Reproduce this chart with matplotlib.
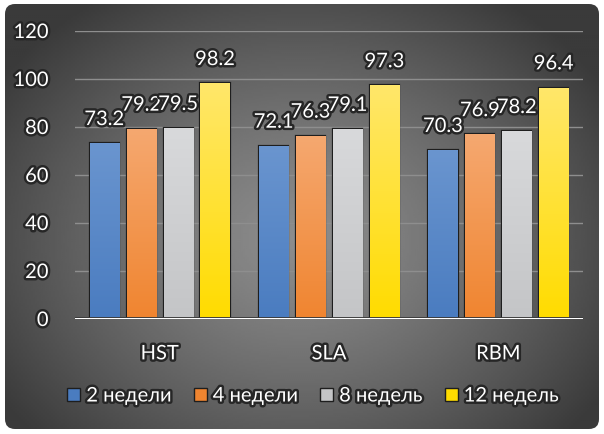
import numpy as np
import matplotlib.pyplot as plt
import matplotlib.patheffects as pe
from matplotlib.patches import FancyBboxPatch, Patch

plt.rcParams['font.family'] = ['Lato', 'DejaVu Sans']

categories = ['HST', 'SLA', 'RBM']
series_names = ['2 недели', '4 недели', '8 недель', '12 недель']
values = [
    [73.2, 72.1, 70.3],
    [79.2, 76.3, 76.9],
    [79.5, 79.1, 78.2],
    [98.2, 97.3, 96.4],
]
y_ticks = [0, 20, 40, 60, 80, 100, 120]

# base colour (bottom of bar) and highlight colour (top of bar)
bar_colors = [('#4a7cc0', '#6a95cf'),
              ('#f08530', '#f5a870'),
              ('#c4c5c7', '#d8d9db'),
              ('#ffdc00', '#ffe76a')]

W, H = 604, 435
fig = plt.figure(figsize=(W / 100, H / 100), dpi=100, facecolor='white')

# dark panel with a radial gradient
bg = fig.add_axes([0, 0, 1, 1])
bg.set_xlim(0, W)
bg.set_ylim(H, 0)
bg.axis('off')
xx, yy = np.meshgrid(np.linspace(0, W, 302), np.linspace(0, H, 218))
r = np.sqrt(((xx - 300) / 360) ** 2 + ((yy - 240) / 290) ** 2)
shade = np.clip(0.55 - 0.32 * np.clip(r, 0, 1) ** 1.3, 0, 1)
panel = FancyBboxPatch((5, 5), W - 10, H - 10, boxstyle='round,pad=0,rounding_size=10',
                       facecolor='none', edgecolor='none')
bg.add_patch(panel)
im = bg.imshow(shade, cmap='gray', vmin=0, vmax=1, extent=(0, W, H, 0), aspect='auto')
im.set_clip_path(panel)

ax = fig.add_axes([75 / W, (H - 320) / H, 508 / W, 288 / H])
ax.set_facecolor('none')

shadow = [pe.withStroke(linewidth=3.5, foreground='#262626')]
fs = 14.5

x = np.arange(len(categories))
step, width = 0.218, 0.172
for i, (vals, (c_lo, c_hi)) in enumerate(zip(values, bar_colors)):
    pos = x + (i - 1.5) * step
    bars = ax.bar(pos, vals, width, color=c_lo, edgecolor='#1e1e1e', linewidth=1.6, zorder=3)
    grad = np.linspace(0, 1, 100).reshape(-1, 1)
    cmap = plt.matplotlib.colors.LinearSegmentedColormap.from_list('g', [c_lo, c_hi])
    for b, v in zip(bars, vals):
        gi = ax.imshow(grad, cmap=cmap, origin='lower', aspect='auto', zorder=3.5,
                       extent=(b.get_x(), b.get_x() + b.get_width(), 0, v))
        gi.set_clip_path(b)
        ax.annotate(f'{v:.1f}', (b.get_x() + b.get_width() / 2, v), xytext=(0, 11),
                    textcoords='offset points', ha='center', va='bottom', fontsize=fs,
                    color='white', zorder=5, path_effects=shadow)

ax.set_xlim(-0.5, 2.5)
ax.set_ylim(0, 120)
ax.set_yticks(y_ticks)
ax.set_xticks(x)
ax.set_xticklabels(categories)
ax.tick_params(length=0, labelsize=fs, colors='white')
ax.tick_params(axis='y', pad=19)
ax.tick_params(axis='x', pad=19)
for t in ax.get_xticklabels() + ax.get_yticklabels():
    t.set_path_effects(shadow)
ax.grid(axis='y', color='#8e8e8e', linewidth=1, zorder=0)
for s in ax.spines.values():
    s.set_visible(False)
ax.axhline(0, color='#222222', linewidth=3.5, zorder=4)
ax.axhline(0, color='white', linewidth=1.6, zorder=4.5)

handles = [Patch(facecolor=c_lo, edgecolor='#1e1e1e', linewidth=1) for c_lo, _ in bar_colors]
leg = fig.legend(handles, series_names, loc='center', bbox_to_anchor=(0.518, (H - 397) / H),
                 ncol=4, frameon=False, fontsize=fs, handlelength=0.65, handleheight=0.65,
                 handletextpad=0.3, columnspacing=1.1)
for t in leg.get_texts():
    t.set_color('white')
    t.set_path_effects(shadow)

fig.savefig('out.png', dpi=100, facecolor='white')
